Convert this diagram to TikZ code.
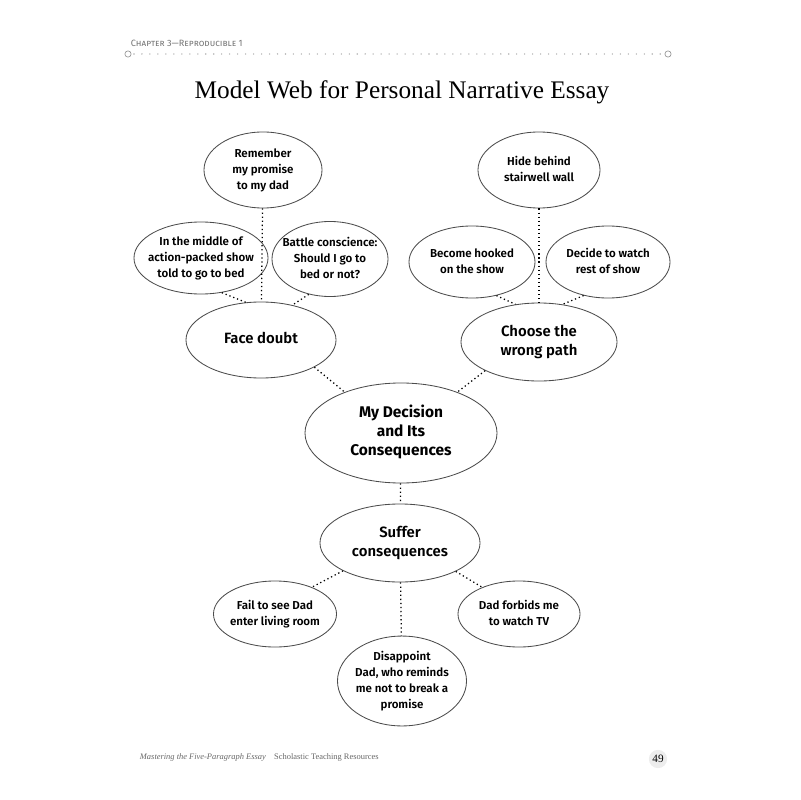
\documentclass[tikz,border=0pt]{standalone}
\usepackage{fontspec}
\setmainfont{Liberation Serif}
\setsansfont{Fira Sans}[BoldFont={Fira Sans SemiBold}]
\newfontfamily\heavyfont{Fira Sans Bold}
\usetikzlibrary{shapes.geometric}

\newcommand{\bubtext}[1]{\makebox[0pt]{\begin{tabular}{@{}c@{}}#1\end{tabular}}}

\begin{document}
\begin{tikzpicture}[x=0.025cm,y=-0.025cm]
  \tikzstyle{every node}=[font=\sffamily\bfseries\fontsize{8.2}{11.3}\selectfont]
  \tikzstyle{bub}=[ellipse,draw=black!70,fill=white,line width=0.6pt,inner sep=0pt]
  \tikzstyle{big}=[bub,font=\sffamily\bfseries\fontsize{10.6}{13.5}\selectfont]
  \tikzstyle{link}=[dotted,line width=0.9pt]
 \useasboundingbox (0,0) rectangle (800,800);

 % page header and footer
 \node[anchor=west,font=\sffamily\fontsize{6.5}{7}\selectfont,text=black!55] (chap) at (126,43) {\textsc{Chapter 3—Reproducible 1}};
 \coordinate (hl) at (134,54);
 \coordinate (hr) at (662,54);
 \draw[black!30,line width=1.1pt,line cap=round,dash pattern=on 0pt off 5.67pt] (hl) -- (hr);
 \draw[black!40,line width=0.5pt] (hl) ++(-6,0) circle (2.2pt);
 \draw[black!40,line width=0.5pt] (hr) ++(6,0) circle (2.2pt);
 \node[font=\rmfamily\mdseries\fontsize{18}{21}\selectfont] (title) at (402,92) {Model Web for Personal Narrative Essay};
 \node[anchor=west,font=\rmfamily\mdseries\fontsize{6}{7}\selectfont,text=black!60] (foot) at (135,757) {\textit{Mastering the Five-Paragraph Essay}\quad Scholastic Teaching Resources};
 \node[circle,fill=black!7,inner sep=1.2pt,font=\rmfamily\mdseries\fontsize{8}{9}\selectfont] (page) at (658,759) {49};

 % left branch
 \node[bub,minimum width=2.95cm,minimum height=1.9cm] (rem) at (263,170) {\bubtext{Remember\\my promise\\to my dad}};
 \node[bub,minimum width=3.35cm,minimum height=1.8cm] (mid) at (201,258) {\bubtext{In the middle of\\action-packed show\\told to go to bed}};
 \node[bub,minimum width=2.9cm,minimum height=1.875cm] (bat) at (330,259) {\bubtext{Battle conscience:\\Should I go to\\bed or not?}};
 \node[big,minimum width=3.75cm,minimum height=1.9cm] (face) at (261,340) {\bubtext{Face doubt}};

 % right branch
 \node[bub,minimum width=3.05cm,minimum height=1.9cm] (hide) at (539,170) {\bubtext{Hide behind\\stairwell wall}};
 \node[bub,minimum width=3.15cm,minimum height=1.8cm] (hook) at (472,262) {\bubtext{Become hooked\\on the show}};
 \node[bub,minimum width=3.1cm,minimum height=1.8cm] (watch) at (608,262) {\bubtext{Decide to watch\\rest of show}};
 \node[big,minimum width=3.9cm,minimum height=1.95cm] (path) at (539,342) {\bubtext{Choose the\\wrong path}};

 % centre
 \node[big,minimum width=4.8cm,minimum height=2.5cm,font=\heavyfont\fontsize{11}{13.5}\selectfont] (dec) at (401,433) {\bubtext{My Decision\\and Its\\Consequences}};

 % bottom branch
 \node[big,minimum width=4cm,minimum height=1.95cm] (suf) at (400,543) {\bubtext{Suffer\\consequences}};
 \node[bub,minimum width=3.075cm,minimum height=1.65cm] (fail) at (275,614) {\bubtext{Fail to see Dad\\enter living room}};
 \node[bub,minimum width=3.05cm,minimum height=1.65cm] (forbid) at (519,614) {\bubtext{Dad forbids me\\to watch TV}};
 \node[bub,minimum width=3.225cm,minimum height=1.8cm] (disap) at (402,681) {\bubtext{Disappoint\\Dad, who reminds\\me not to break a\\promise}};

 \draw[link] (rem) -- (face);
 \draw[link] (mid.-59) -- (face.112);
 \draw[link] (bat.-121) -- (face.48);
 \draw[link] (face.-27) -- (dec.144);
 \draw[link] (hide) -- (path);
 \draw[link] (hook.-54) -- (path.122);
 \draw[link] (watch.-126) -- (path.58);
 \draw[link] (path.-152) -- (dec.36);
 \draw[link] (dec) -- (suf);
 \draw[link] (suf.-154) -- (fail.36);
 \draw[link] (suf.-27) -- (forbid.144);
 \draw[link] (suf) -- (disap);

\end{tikzpicture}
\end{document}
